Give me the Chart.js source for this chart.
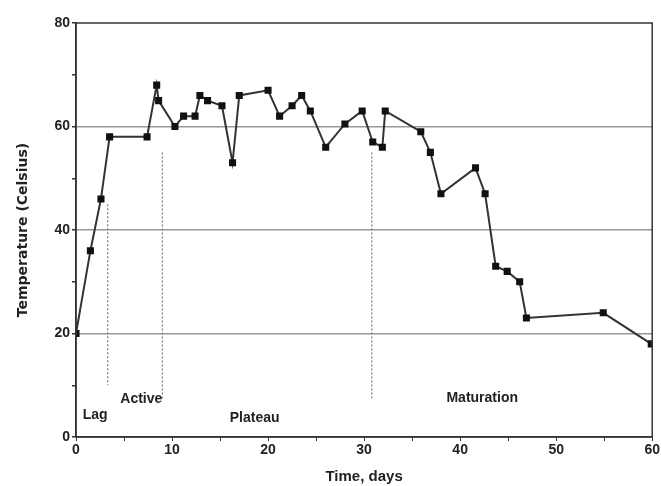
<!DOCTYPE html>
<html>
<head>
<meta charset="utf-8">
<script src="https://cdn.jsdelivr.net/npm/chart.js@4"></script>
<style>
  html, body { margin: 0; padding: 0; background: #fff; }
  #wrap { width: 661px; height: 486px; }
</style>
</head>
<body>
<div id="wrap"><canvas id="chart"></canvas></div>
<script>
const days = [0, 1.5, 2.6, 3.5, 7.4, 8.4, 8.6, 10.3, 11.2, 12.4, 12.9, 13.7, 15.2, 16.3, 17, 20,
  21.2, 22.5, 23.5, 24.4, 26, 28, 29.8, 30.9, 31.9, 32.2, 35.9, 36.9, 38, 41.6, 42.6,
  43.7, 44.9, 46.2, 46.9, 54.9, 59.9];
const temps = [20, 36, 46, 58, 58, 68, 65, 60, 62, 62, 66, 65, 64, 53, 66, 67,
  62, 64, 66, 63, 56, 60.5, 63, 57, 56, 63, 59, 55, 47, 52, 47,
  33, 32, 30, 23, 24, 18];

// phase dividers: x position, y from, y to
const dividerX = [3.3, 9.0, 30.8];
const dividerTop = [45, 55, 55];
const dividerBottom = [10, 7.5, 7.5];

const phaseNames = ['Lag', 'Active', 'Plateau', 'Maturation'];
const phaseX = [2, 6.8, 18.6, 42.3];
const phaseY = [4.3, 7.4, 3.6, 7.5];

const labelledTemps = [0, 20, 40, 60, 80];
const gridTemps = [20, 40, 60];

const ctx = document.getElementById('chart');

const extras = {
  id: 'extras',
  afterDraw(chart) {
    const c = chart.ctx;
    const area = chart.chartArea;
    const xs = chart.scales.x;
    const ys = chart.scales.y;
    c.save();
    // phase dividers
    c.strokeStyle = '#777';
    c.lineWidth = 1.2;
    c.setLineDash([2, 2]);
    for (let i = 0; i < dividerX.length; i++) {
      const px = xs.getPixelForValue(dividerX[i]);
      c.beginPath();
      c.moveTo(px, ys.getPixelForValue(dividerTop[i]));
      c.lineTo(px, ys.getPixelForValue(dividerBottom[i]));
      c.stroke();
    }
    c.setLineDash([]);
    // frame
    c.strokeStyle = '#333';
    c.lineWidth = 1.5;
    c.strokeRect(area.left, area.top, area.right - area.left, area.bottom - area.top);
    // phase names
    c.fillStyle = '#222';
    c.font = 'bold 14px "Liberation Sans", Arial, sans-serif';
    c.textAlign = 'center';
    c.textBaseline = 'middle';
    for (let i = 0; i < phaseNames.length; i++) {
      c.fillText(phaseNames[i], xs.getPixelForValue(phaseX[i]), ys.getPixelForValue(phaseY[i]));
    }
    c.restore();
  }
};

new Chart(ctx, {
  type: 'line',
  data: {
    datasets: [{
      data: days.map((d, i) => ({ x: d, y: temps[i] })),
      borderColor: '#333',
      borderWidth: 2,
      backgroundColor: '#111',
      pointStyle: 'rect',
      pointRadius: 5,
      pointBorderWidth: 0,
      tension: 0
    }]
  },
  options: {
    responsive: true,
    maintainAspectRatio: false,
    animation: false,
    layout: { padding: { left: 0, right: 8, top: 23, bottom: 0 } },
    plugins: { legend: { display: false }, tooltip: { enabled: false } },
    scales: {
      x: {
        type: 'linear',
        min: 0,
        max: 60,
        ticks: {
          stepSize: 5,
          autoSkip: false,
          maxRotation: 0,
          padding: 1,
          color: '#222',
          font: { family: '"Liberation Sans", Arial, sans-serif', size: 14, weight: 'bold' },
          callback: v => (v % 10 === 0 ? v : '')
        },
        grid: { drawOnChartArea: false, tickLength: 4, tickColor: '#333' },
        border: { color: '#333', width: 1.5 },
        title: {
          display: true,
          text: 'Time, days',
          color: '#222',
          padding: { top: 0, bottom: 0 },
          font: { family: '"Liberation Sans", Arial, sans-serif', size: 15, weight: 'bold' }
        },
        afterFit: s => { s.height = 49; }
      },
      y: {
        min: 0,
        max: 80,
        ticks: {
          stepSize: 10,
          padding: 2,
          color: '#222',
          font: { family: '"Liberation Sans", Arial, sans-serif', size: 14, weight: 'bold' },
          callback: v => (labelledTemps.includes(v) ? v : '')
        },
        grid: {
          tickLength: 4,
          tickColor: '#333',
          lineWidth: 1.5,
          color: c => (gridTemps.includes(c.tick.value) ? '#999' : 'rgba(0,0,0,0)')
        },
        border: { color: '#333', width: 1.5 },
        title: {
          display: true,
          text: 'Temperature (Celsius)',
          color: '#222',
          padding: { top: 15, bottom: 0 },
          font: { family: '"DejaVu Sans", sans-serif', size: 14, weight: 'bold' }
        },
        afterFit: s => { s.width = 76; }
      }
    }
  },
  plugins: [extras]
});
</script>
</body>
</html>
